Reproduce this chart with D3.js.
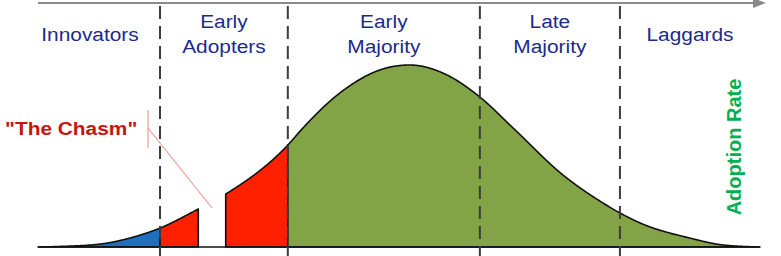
<!DOCTYPE html>
<html><head><meta charset="utf-8">
<script src="https://cdn.jsdelivr.net/npm/d3@7"></script>
<style>body{margin:0;background:#fff;overflow:hidden}</style>
</head><body>
<svg id="c" width="781" height="256"></svg>
<script>
// ---- data ----
const curveT    = [0, 3, 8.6, 12.7, 16.9, 22.2, 26.0, 34.6, 36.7, 41.8, 48.8, 51.5, 56.4, 61.2, 65.8, 72.7, 77.8, 80.6, 83.4, 90.3, 94.9, 100];
const curveRate = [0, 0.3, 1.6, 4.9, 10.4, 20.9, 29.1, 56, 65.4, 84.6, 98.9, 100, 95, 82.4, 65.4, 39.6, 25.3, 18.7, 13.2, 4.9, 1.1, 0];
const segmentLabels = [["Innovators"], ["Early", "Adopters"], ["Early", "Majority"], ["Late", "Majority"], ["Laggards"]];
const boundaries = [0, 16.9, 34.6, 61.2, 80.6, 100];
const chasm = [22.2, 26.0];
const chasmLabel = "\"The Chasm\"";
const axisLabel = "Adoption Rate";

// ---- setup ----
const svg = d3.select("#c");
const W = 781, H = 256;
const x = d3.scaleLinear().domain([0, 100]).range([38, 760]);
const y = d3.scaleLinear().domain([0, 100]).range([247, 65]);
const pts = curveT.map((t, i) => [t, curveRate[i]]);
const line = d3.line().x(d => x(d[0])).y(d => y(d[1])).curve(d3.curveMonotoneX);

// dense sampling of the curve
const tmp = svg.append("path").attr("d", line(pts)).attr("fill", "none").attr("stroke", "none");
const node = tmp.node();
const L = node.getTotalLength();
const dense = [];
for (let l = 0; l <= L; l += 0.5) { const p = node.getPointAtLength(l); dense.push([p.x, p.y]); }
const pe = node.getPointAtLength(L); dense.push([pe.x, pe.y]);
tmp.remove();
function yAt(px) {
  for (let i = 1; i < dense.length; i++) {
    if (dense[i][0] >= px) {
      const a = dense[i - 1], b = dense[i];
      const f = (px - a[0]) / ((b[0] - a[0]) || 1);
      return a[1] + f * (b[1] - a[1]);
    }
  }
  return dense[dense.length - 1][1];
}
function piece(t0, t1) {
  const x0 = x(t0), x1 = x(t1), base = y(0);
  const top = [[x0, yAt(x0)]].concat(dense.filter(p => p[0] > x0 && p[0] < x1), [[x1, yAt(x1)]]);
  return [[x0, base]].concat(top, [[x1, base]]);
}

const blue = "#1f6fc1", red = "#ff2000", green = "#82a447";
const pieces = [
  { from: boundaries[0], to: boundaries[1], color: blue },
  { from: boundaries[1], to: chasm[0], color: red },
  { from: chasm[1], to: boundaries[2], color: red },
  { from: boundaries[2], to: boundaries[5], color: green }
];

// filled pieces
svg.append("g").selectAll("path").data(pieces).join("path")
  .attr("d", d => d3.line()(piece(d.from, d.to)) + "Z")
  .attr("fill", d => d.color)
  .attr("stroke", "#111").attr("stroke-width", 1.6).attr("stroke-linejoin", "round");

// baseline
svg.append("line").attr("x1", x(0)).attr("x2", x(100)).attr("y1", y(0)).attr("y2", y(0))
  .attr("stroke", "#111").attr("stroke-width", 1.6);

// dashed separators
svg.append("g").selectAll("line").data(boundaries.slice(1, 5)).join("line")
  .attr("x1", d => x(d)).attr("x2", d => x(d)).attr("y1", 6).attr("y2", H)
  .attr("stroke", "#3c3c3c").attr("stroke-width", 2).attr("stroke-dasharray", "13,7");

// top arrow axis
svg.append("line").attr("x1", x(0)).attr("x2", 756).attr("y1", 3).attr("y2", 3)
  .attr("stroke", "#8a8a8a").attr("stroke-width", 2.2);
svg.append("path").attr("d", "M753,-2 L766,3 L753,8 Z").attr("fill", "#8a8a8a");

// segment labels
const SX = 1.16;
const centers = boundaries.slice(0, 5).map((b, i) => {
  const left = i === 0 ? x(b) - 18 : x(b);
  return (left + x(boundaries[i + 1])) / 2;
});
const lg = svg.append("g").attr("font-family", "'Liberation Sans', Arial, sans-serif")
  .attr("font-size", 18).attr("fill", "#1b2a8e").attr("text-anchor", "middle");
segmentLabels.forEach((lines, i) => {
  const ys = lines.length === 1 ? [41] : [28, 53];
  lines.forEach((s, j) => {
    lg.append("text").attr("transform", `translate(${centers[i]},${ys[j]}) scale(${SX},1)`).text(s);
  });
});

// chasm annotation
svg.append("text").attr("transform", `translate(5,135) scale(${SX},1)`)
  .attr("font-family", "'Liberation Sans', Arial, sans-serif").attr("font-weight", "bold")
  .attr("font-size", 18).attr("fill", "#c8140f").text(chasmLabel);
const chasmMid = (x(chasm[0]) + x(chasm[1])) / 2;
svg.append("line").attr("x1", 148).attr("x2", 148).attr("y1", 110).attr("y2", 148)
  .attr("stroke", "#f29a94").attr("stroke-width", 1.2);
svg.append("line").attr("x1", 148).attr("y1", 128).attr("x2", chasmMid).attr("y2", 208)
  .attr("stroke", "#f29a94").attr("stroke-width", 1.2);

// vertical axis label
svg.append("text").attr("transform", "translate(741,147) rotate(-90)")
  .attr("text-anchor", "middle")
  .attr("font-family", "'Liberation Sans', Arial, sans-serif").attr("font-weight", "bold")
  .attr("font-size", 20).attr("fill", "#00b050").text(axisLabel);
</script>
</body></html>
